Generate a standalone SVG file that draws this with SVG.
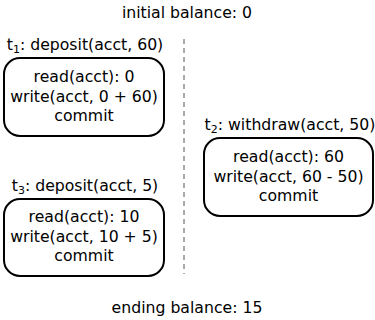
<svg xmlns="http://www.w3.org/2000/svg" width="375" height="320" viewBox="0 0 375 320">
<style>
text{font-family:"DejaVu Sans",sans-serif;font-size:15.7px;fill:#000;text-anchor:middle}
.sub{font-size:11px}
.box{fill:#fff;stroke:#000;stroke-width:2}
.sep{stroke:#555;stroke-width:1;stroke-dasharray:5,4;fill:none}
</style>
<rect width="375" height="320" fill="#fff"/>
<text id="initial" x="187" y="18">initial balance: 0</text>
<g id="connectors"><line class="sep" x1="184" y1="39" x2="184" y2="274"/></g>
<g id="t1">
<text x="85" y="50">t<tspan class="sub" dy="3">1</tspan><tspan dy="-3">: deposit(acct, 60)</tspan></text>
<rect class="box" x="4" y="58" width="160" height="78" rx="16"/>
<text x="84" y="82">read(acct): 0</text>
<text x="84" y="102">write(acct, 0 + 60)</text>
<text x="84" y="121">commit</text>
</g>
<g id="t2">
<text x="290" y="130">t<tspan class="sub" dy="3">2</tspan><tspan dy="-3">: withdraw(acct, 50)</tspan></text>
<rect class="box" x="204" y="138" width="169" height="78" rx="16"/>
<text x="288.5" y="162">read(acct): 60</text>
<text x="288.5" y="182">write(acct, 60 - 50)</text>
<text x="288.5" y="201">commit</text>
</g>
<g id="t3">
<text x="85" y="191">t<tspan class="sub" dy="3">3</tspan><tspan dy="-3">: deposit(acct, 5)</tspan></text>
<rect class="box" x="4" y="199" width="160" height="77" rx="16"/>
<text x="84" y="222">read(acct): 10</text>
<text x="84" y="242">write(acct, 10 + 5)</text>
<text x="84" y="261">commit</text>
</g>
<text id="ending" x="187" y="313">ending balance: 15</text>
</svg>
